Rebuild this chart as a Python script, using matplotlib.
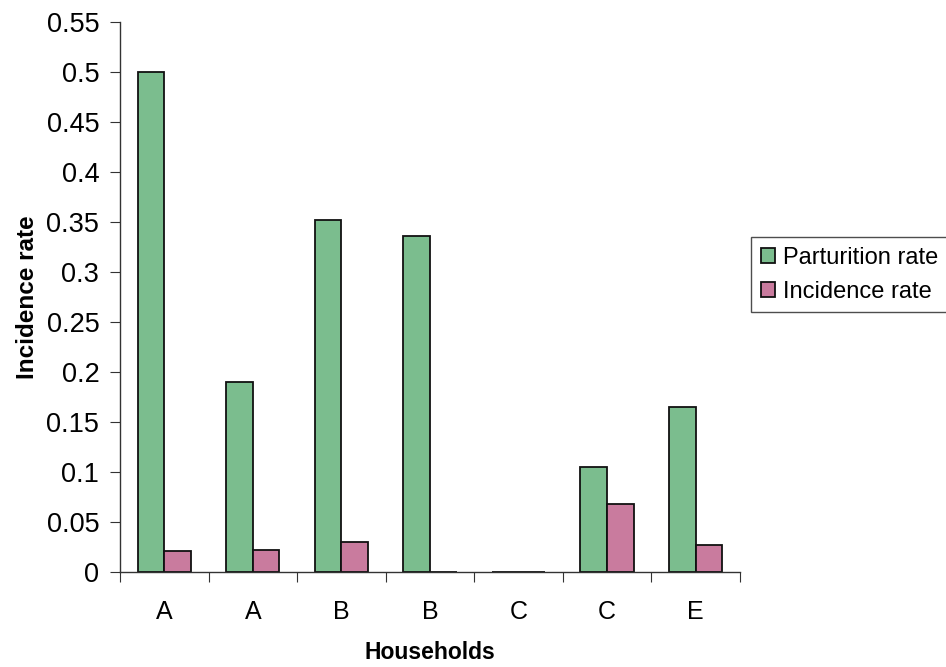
import numpy as np
import matplotlib.pyplot as plt

households = ['A', 'A', 'B', 'B', 'C', 'C', 'E']
parturition = [0.50, 0.19, 0.352, 0.336, 0.0, 0.105, 0.165]
incidence = [0.021, 0.022, 0.030, 0.0, 0.0, 0.068, 0.027]
yticks = [0, 0.05, 0.1, 0.15, 0.2, 0.25, 0.3, 0.35, 0.4, 0.45, 0.5, 0.55]
ytick_labels = ['0', '0.05', '0.1', '0.15', '0.2', '0.25', '0.3', '0.35', '0.4', '0.45', '0.5', '0.55']

plt.rcParams['font.family'] = ['Liberation Sans', 'DejaVu Sans']

fig = plt.figure(figsize=(9.46, 6.67), dpi=100)
ax = fig.add_axes([0.127, 0.142, 0.655, 0.825])

x = np.arange(len(households))
w = 0.3
ax.bar(x - w / 2, parturition, w, color='#7bbd8e', edgecolor='#111111', linewidth=1.3,
       label='Parturition rate')
ax.bar(x + w / 2, incidence, w, color='#c97b9e', edgecolor='#111111', linewidth=1.3,
       label='Incidence rate')

ax.set_xlim(-0.5, len(households) - 0.5)
ax.set_ylim(0, 0.55)
ax.set_yticks(yticks)
ax.set_yticklabels(ytick_labels, fontsize=19.5)

# ticks sit on the category boundaries, labels in the middle
ax.set_xticks(np.arange(len(households) + 1) - 0.5)
ax.set_xticklabels([])
ax.set_xticks(x, minor=True)
ax.set_xticklabels(households, minor=True, fontsize=18)
ax.tick_params(axis='x', which='minor', length=0, pad=20)
ax.tick_params(axis='x', which='major', length=7, direction='out', color='#333333')
ax.tick_params(axis='y', length=7, direction='out', color='#333333', pad=8)

for side in ['top', 'right']:
    ax.spines[side].set_visible(False)
for side in ['left', 'bottom']:
    ax.spines[side].set_color('#333333')
    ax.spines[side].set_linewidth(1.0)

ax.set_ylabel('Incidence rate', fontsize=17.5, fontweight='bold', labelpad=5)
ax.set_xlabel('Households', fontsize=16.5, fontweight='bold', labelpad=12)

leg = fig.legend(loc='center left', bbox_to_anchor=(0.794, 0.588), fontsize=17,
                 frameon=True, fancybox=False, edgecolor='#222222',
                 handlelength=0.6, handleheight=0.6, handletextpad=0.35,
                 borderpad=0.4, labelspacing=0.5, borderaxespad=0)
leg.get_frame().set_linewidth(1.0)

fig.savefig('out.png', dpi=100)
